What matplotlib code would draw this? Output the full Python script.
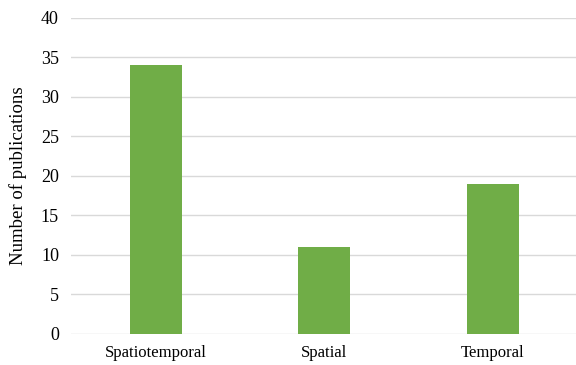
import matplotlib
matplotlib.use("Agg")
import matplotlib.pyplot as plt

# publication counts per analysis type
categories = ["Spatiotemporal", "Spatial", "Temporal"]
counts = [34, 11, 19]
yticks = [0, 5, 10, 15, 20, 25, 30, 35, 40]

plt.rcParams["font.family"] = ["Liberation Serif", "DejaVu Serif"]

fig = plt.figure(figsize=(5.76, 3.65), dpi=100)
ax = fig.add_axes([0.124, 0.085, 0.878, 0.866])

x = range(len(categories))
ax.bar(x, counts, width=0.31, color="#70AD47", zorder=3)

ax.set_xlim(-0.5, 2.5)
ax.set_ylim(0, 40)
ax.set_yticks(yticks)
ax.set_xticks(list(x))
ax.set_xticklabels(categories)
ax.tick_params(axis="both", length=0, colors="#000000")
ax.tick_params(axis="y", labelsize=13, pad=9)
ax.tick_params(axis="x", labelsize=12, pad=8)
ax.grid(axis="y", color="#D9D9D9", linewidth=1, zorder=0)
for side in ax.spines.values():
    side.set_visible(False)

ax.set_ylabel("Number of publications", fontsize=13.5, labelpad=10)

fig.savefig("out.png", dpi=100)
